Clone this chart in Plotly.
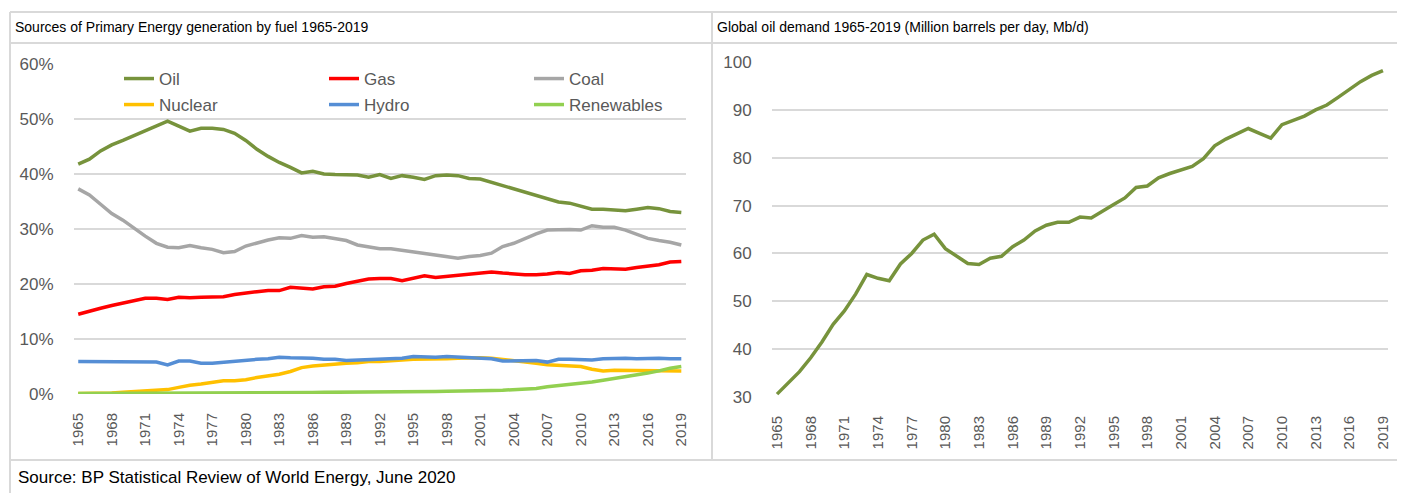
import plotly.graph_objects as go

# Données (BP Statistical Review 2020)
years = list(range(1965, 2020))

oil = [41.8, 42.7, 44.2, 45.3, 46.1, 47.0, 47.8, 48.8, 49.6, 48.7,
       47.8, 48.3, 48.3, 48.1, 47.4, 46.1, 44.5, 43.2, 42.1, 41.2,
       40.2, 40.5, 40.0, 39.9, 39.8, 39.8, 39.4, 39.9, 39.2, 39.7,
       39.4, 39.0, 39.7, 39.8, 39.7, 39.2, 39.1, 38.5, 37.9, 37.4,
       36.7, 36.1, 35.6, 34.9, 34.7, 34.1, 33.6, 33.6, 33.4, 33.3,
       33.6, 33.9, 33.7, 33.2, 33.0]
gas = [14.5, 15.1, 15.6, 16.1, 16.5, 16.9, 17.4, 17.4, 17.2, 17.6,
       17.5, 17.6, 17.6, 17.7, 18.1, 18.4, 18.6, 18.8, 18.8, 19.4,
       19.3, 19.1, 19.5, 19.6, 20.1, 20.5, 20.9, 21.0, 21.0, 20.6,
       21.0, 21.5, 21.2, 21.4, 21.6, 21.9, 22.0, 22.2, 22.0, 21.8,
       21.7, 21.7, 21.8, 22.1, 21.9, 22.4, 22.5, 22.8, 22.7, 22.7,
       23.0, 23.3, 23.5, 24.0, 24.1]
coal = [37.3, 36.2, 34.5, 32.8, 31.6, 30.1, 28.7, 27.4, 26.7, 26.6,
        27.0, 26.6, 26.3, 25.7, 25.9, 26.9, 27.5, 28.0, 28.4, 28.3,
        28.8, 28.5, 28.6, 28.3, 27.9, 27.1, 26.7, 26.4, 26.4, 26.1,
        25.8, 25.6, 25.3, 25.0, 24.7, 25.0, 25.2, 25.6, 26.8, 27.4,
        28.3, 29.1, 29.8, 29.9, 29.9, 29.8, 30.6, 30.3, 30.3, 29.8,
        29.0, 28.3, 27.9, 27.6, 27.1]
nuclear = [0.1, 0.1, 0.2, 0.2, 0.3, 0.4, 0.5, 0.7, 0.8, 1.2,
           1.6, 1.8, 2.1, 2.4, 2.4, 2.6, 3.0, 3.3, 3.6, 4.1,
           4.8, 5.1, 5.3, 5.5, 5.6, 5.7, 5.9, 5.9, 6.1, 6.2,
           6.3, 6.3, 6.3, 6.4, 6.5, 6.6, 6.6, 6.5, 6.3, 6.0,
           5.8, 5.6, 5.3, 5.2, 5.2, 5.0, 4.5, 4.2, 4.3, 4.3,
           4.3, 4.3, 4.2, 4.2, 4.2]
hydro = [5.9, 5.9, 5.9, 5.8, 5.8, 5.8, 5.8, 5.8, 5.3, 6.0,
         6.0, 5.6, 5.6, 5.8, 5.9, 6.2, 6.3, 6.4, 6.7, 6.6,
         6.6, 6.5, 6.3, 6.3, 6.1, 6.2, 6.3, 6.3, 6.5, 6.5,
         6.8, 6.7, 6.7, 6.8, 6.7, 6.6, 6.5, 6.4, 6.0, 6.0,
         6.1, 6.1, 5.8, 6.3, 6.3, 6.3, 6.2, 6.4, 6.5, 6.5,
         6.4, 6.5, 6.5, 6.4, 6.4]
renewables = [0.1, 0.1, 0.1, 0.1, 0.1, 0.1, 0.1, 0.1, 0.1, 0.1,
              0.1, 0.1, 0.1, 0.15, 0.15, 0.15, 0.2, 0.2, 0.2, 0.25,
              0.25, 0.25, 0.3, 0.3, 0.3, 0.35, 0.35, 0.4, 0.4, 0.4,
              0.4, 0.45, 0.45, 0.5, 0.5, 0.55, 0.6, 0.65, 0.7, 0.8,
              0.9, 1.0, 1.3, 1.5, 1.7, 2.0, 2.2, 2.5, 2.8, 3.1,
              3.4, 3.8, 4.2, 4.7, 5.0]

oil_demand = [30.6, 33.0, 35.3, 38.2, 41.5, 45.2, 48.0, 51.5, 55.6, 54.8,
              54.3, 57.8, 60.0, 62.8, 64.0, 61.0, 59.4, 57.9, 57.7, 59.0,
              59.4, 61.4, 62.8, 64.7, 65.9, 66.5, 66.5, 67.6, 67.4, 68.9,
              70.2, 71.6, 73.8, 74.1, 75.8, 76.7, 77.4, 78.2, 79.8, 82.5,
              83.9, 84.9, 86.1, 85.1, 84.1, 86.9, 87.8, 88.7, 90.0, 91.0,
              92.6, 94.3, 95.9, 97.2, 98.2]

tick_years = list(range(1965, 2020, 3))
pct_ticks = list(range(0, 61, 10))
mbd_ticks = list(range(30, 101, 10))

series = [
    ("Oil", oil, "#77933C", "legend"),
    ("Gas", gas, "#FF0000", "legend"),
    ("Coal", coal, "#A6A6A6", "legend"),
    ("Nuclear", nuclear, "#FFC000", "legend2"),
    ("Hydro", hydro, "#558ED5", "legend2"),
    ("Renewables", renewables, "#92D050", "legend2"),
]

# la page a une marge de 8px : la figure commence en (8, 8)
OX, OY = 8, 8
W, H = 1405 - OX, 493 - OY
FONT = "Liberation Sans, Arial, sans-serif"
GRID = "#D9D9D9"


def px(x):
    return (x - OX) / W


def py(y):
    return 1 - (y - OY) / H


fig = go.Figure()

for name, vals, col, leg in series:
    fig.add_trace(go.Scatter(x=years, y=vals, name=name, mode="lines",
                             line=dict(color=col, width=3.5), legend=leg,
                             xaxis="x", yaxis="y"))

fig.add_trace(go.Scatter(x=years, y=oil_demand, mode="lines", showlegend=False,
                         line=dict(color="#77933C", width=3.5),
                         xaxis="x2", yaxis="y2"))

xcommon = dict(tickmode="array", tickvals=tick_years, ticktext=[str(y) for y in tick_years],
               tickangle=-90, showgrid=False, zeroline=False, showline=False,
               ticks="outside", ticklen=12, tickcolor="rgba(0,0,0,0)", automargin=False,
               tickfont=dict(family=FONT, size=15, color="#595959"))
ycommon = dict(showgrid=True, gridcolor=GRID, gridwidth=1.5, zeroline=False,
               showline=False, ticks="outside", ticklen=16, automargin=False,
               tickcolor="rgba(0,0,0,0)",
               tickfont=dict(family=FONT, size=17, color="#595959"))

legcommon = dict(orientation="h", xanchor="left", yanchor="top",
                 entrywidth=160, bgcolor="rgba(0,0,0,0)",
                 font=dict(family=FONT, size=17, color="#595959"))

fig.update_layout(
    width=W, height=H,
    margin=dict(l=0, r=0, t=0, b=0, pad=0, autoexpand=False),
    paper_bgcolor="white", plot_bgcolor="white",
    xaxis=dict(domain=[px(74), px(686)], range=[1964.62, 2019.42], anchor="y", **xcommon),
    yaxis=dict(domain=[py(394), py(64)], range=[0, 60], tickmode="array",
               tickvals=pct_ticks, ticktext=[f"{v}%" for v in pct_ticks],
               anchor="x", **ycommon),
    xaxis2=dict(domain=[px(772), px(1388)], range=[1964.55, 2019.45], anchor="y2", **xcommon),
    yaxis2=dict(domain=[py(397), py(62)], range=[30, 100], tickmode="array",
                tickvals=mbd_ticks, ticktext=[str(v) for v in mbd_ticks],
                anchor="x2", **ycommon),
    legend=dict(x=px(119), y=py(61), **legcommon),
    legend2=dict(x=px(119), y=py(87), **legcommon),
    showlegend=True,
)

# cadre du tableau
frame = [
    (10, 12, 1405, 12), (10, 43, 1405, 43), (10, 460, 1405, 460),
    (10, 12, 10, 493), (712, 12, 712, 460),
]
for x0, y0, x1, y1 in frame:
    fig.add_shape(type="line", xref="paper", yref="paper",
                  x0=px(x0), y0=py(y0), x1=px(x1), y1=py(y1),
                  line=dict(color=GRID, width=2))

fig.add_annotation(text="Sources of Primary Energy generation by fuel 1965-2019",
                   xref="paper", yref="paper", x=px(13), y=py(27),
                   xanchor="left", yanchor="middle", showarrow=False,
                   font=dict(family=FONT, size=14, color="#000000"))
fig.add_annotation(text="Global oil demand 1965-2019 (Million barrels per day, Mb/d)",
                   xref="paper", yref="paper", x=px(715), y=py(27),
                   xanchor="left", yanchor="middle", showarrow=False,
                   font=dict(family=FONT, size=14, color="#000000"))
fig.add_annotation(text="Source: BP Statistical Review of World Energy, June 2020",
                   xref="paper", yref="paper", x=px(16), y=py(477),
                   xanchor="left", yanchor="middle", showarrow=False,
                   font=dict(family=FONT, size=17, color="#000000"))

fig.write_html("out.html")
